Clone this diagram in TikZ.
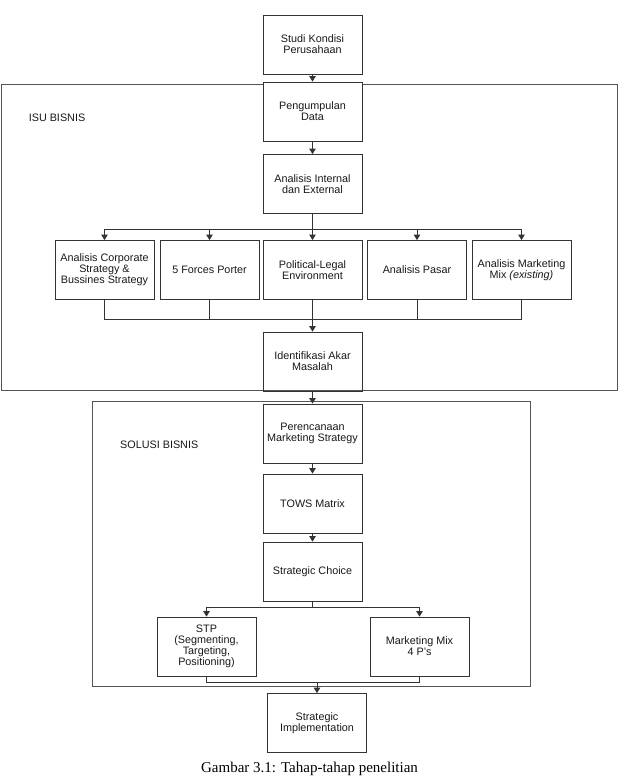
\documentclass[tikz,border=0pt]{standalone}
\usepackage{fontspec}
\setmainfont{Liberation Sans}
\newfontfamily\capfont{Liberation Serif}
\usetikzlibrary{arrows.meta}
\definecolor{ln}{HTML}{333333}
\definecolor{fr}{HTML}{555555}
\tikzset{
  box/.style={draw=ln, line width=0.8pt, minimum width=99pt, minimum height=59pt, inner sep=0pt,
    align=center, font=\fontsize{10.8}{11}\selectfont, text=black!90},
  conn/.style={draw=ln, line width=0.8pt},
  arr/.style={conn, -{Triangle[width=6.5pt,length=5.5pt]}},
  frame/.style={draw=fr, line width=0.8pt},
  lbl/.style={anchor=west, inner sep=0pt, font=\fontsize{10.8}{11}\selectfont, text=black!90}
}
\begin{document}
\begin{tikzpicture}[x=1pt, y=-1pt]
\useasboundingbox (0,0) rectangle (620,777);
\fill[white] (0,0) rectangle (620,777);
% frames
\draw[frame] (1.3,84.7) rectangle (617.5,390.7);
\draw[frame] (92.7,401.7) rectangle (530,686.7);
\node[lbl] (isu) at (28.6,118) {ISU BISNIS};
\node[lbl] (sol) at (120,445) {SOLUSI BISNIS};
% boxes
\node[box, fill=white] (studi) at (312.5,44.5) {Studi Kondisi\\Perusahaan};
\node[box, fill=white] (peng) at (312.5,111.5) {Pengumpulan\\Data};
\node[box] (anal) at (312.5,184) {Analisis Internal\\dan External};
\node[box] (c1) at (104.5,270) {Analisis Corporate\\Strategy \&\\Bussines Strategy};
\node[box] (c2) at (209.5,270) {5 Forces Porter};
\node[box] (c3) at (312.5,270) {Political-Legal\\Environment};
\node[box] (c4) at (417,270) {Analisis Pasar};
\node[box] (c5) at (521.5,270) {Analisis Marketing\\Mix \textit{(existing)}};
\node[box] (ident) at (312.5,361.5) {Identifikasi Akar\\Masalah};
\node[box] (peren) at (312.5,433.5) {Perencanaan\\Marketing Strategy};
\node[box] (tows) at (312.5,503.5) {TOWS Matrix};
\node[box] (choice) at (312.5,571.5) {Strategic Choice};
\node[box] (stp) at (206.5,646.5) {STP\\(Segmenting,\\Targeting,\\Positioning)};
\node[box] (mm) at (419.5,646.5) {Marketing Mix\\4 P's};
\node[box] (impl) at (317,723) {Strategic\\Implementation};
% connectors
\coordinate (bus) at (312.5,229);
\coordinate (merge) at (312.5,319);
\coordinate (bus2) at (312.5,607);
\coordinate (merge2) at (317,682.7);
\draw[arr] (studi) -- (peng);
\draw[arr] (peng) -- (anal);
\draw[conn] (anal.south) -- (bus);
\draw[arr] (bus) -| (c1.north);
\draw[arr] (bus) -| (c2.north);
\draw[arr] (bus) -- (c3.north);
\draw[arr] (bus) -| (c4.north);
\draw[arr] (bus) -| (c5.north);
\draw[conn] (c1.south) |- (merge);
\draw[conn] (c2.south) |- (merge);
\draw[conn] (c4.south) |- (merge);
\draw[conn] (c5.south) |- (merge);
\draw[arr] (c3.south) -- (ident.north);
\draw[arr] (ident) -- (peren);
\draw[arr] (peren) -- (tows);
\draw[arr] (tows) -- (choice);
\draw[conn] (choice.south) -- (bus2);
\draw[arr] (bus2) -| (stp.north);
\draw[arr] (bus2) -| (mm.north);
\draw[conn] (stp.south) |- (merge2);
\draw[conn] (mm.south) |- (merge2);
\draw[arr] (merge2) -- (impl.north);
% caption
\node[anchor=base, inner sep=0pt, font=\capfont\fontsize{15}{17}\selectfont] (cap) at (309.5,772.5) {Gambar 3.1: Tahap-tahap penelitian};
\end{tikzpicture}
\end{document}
